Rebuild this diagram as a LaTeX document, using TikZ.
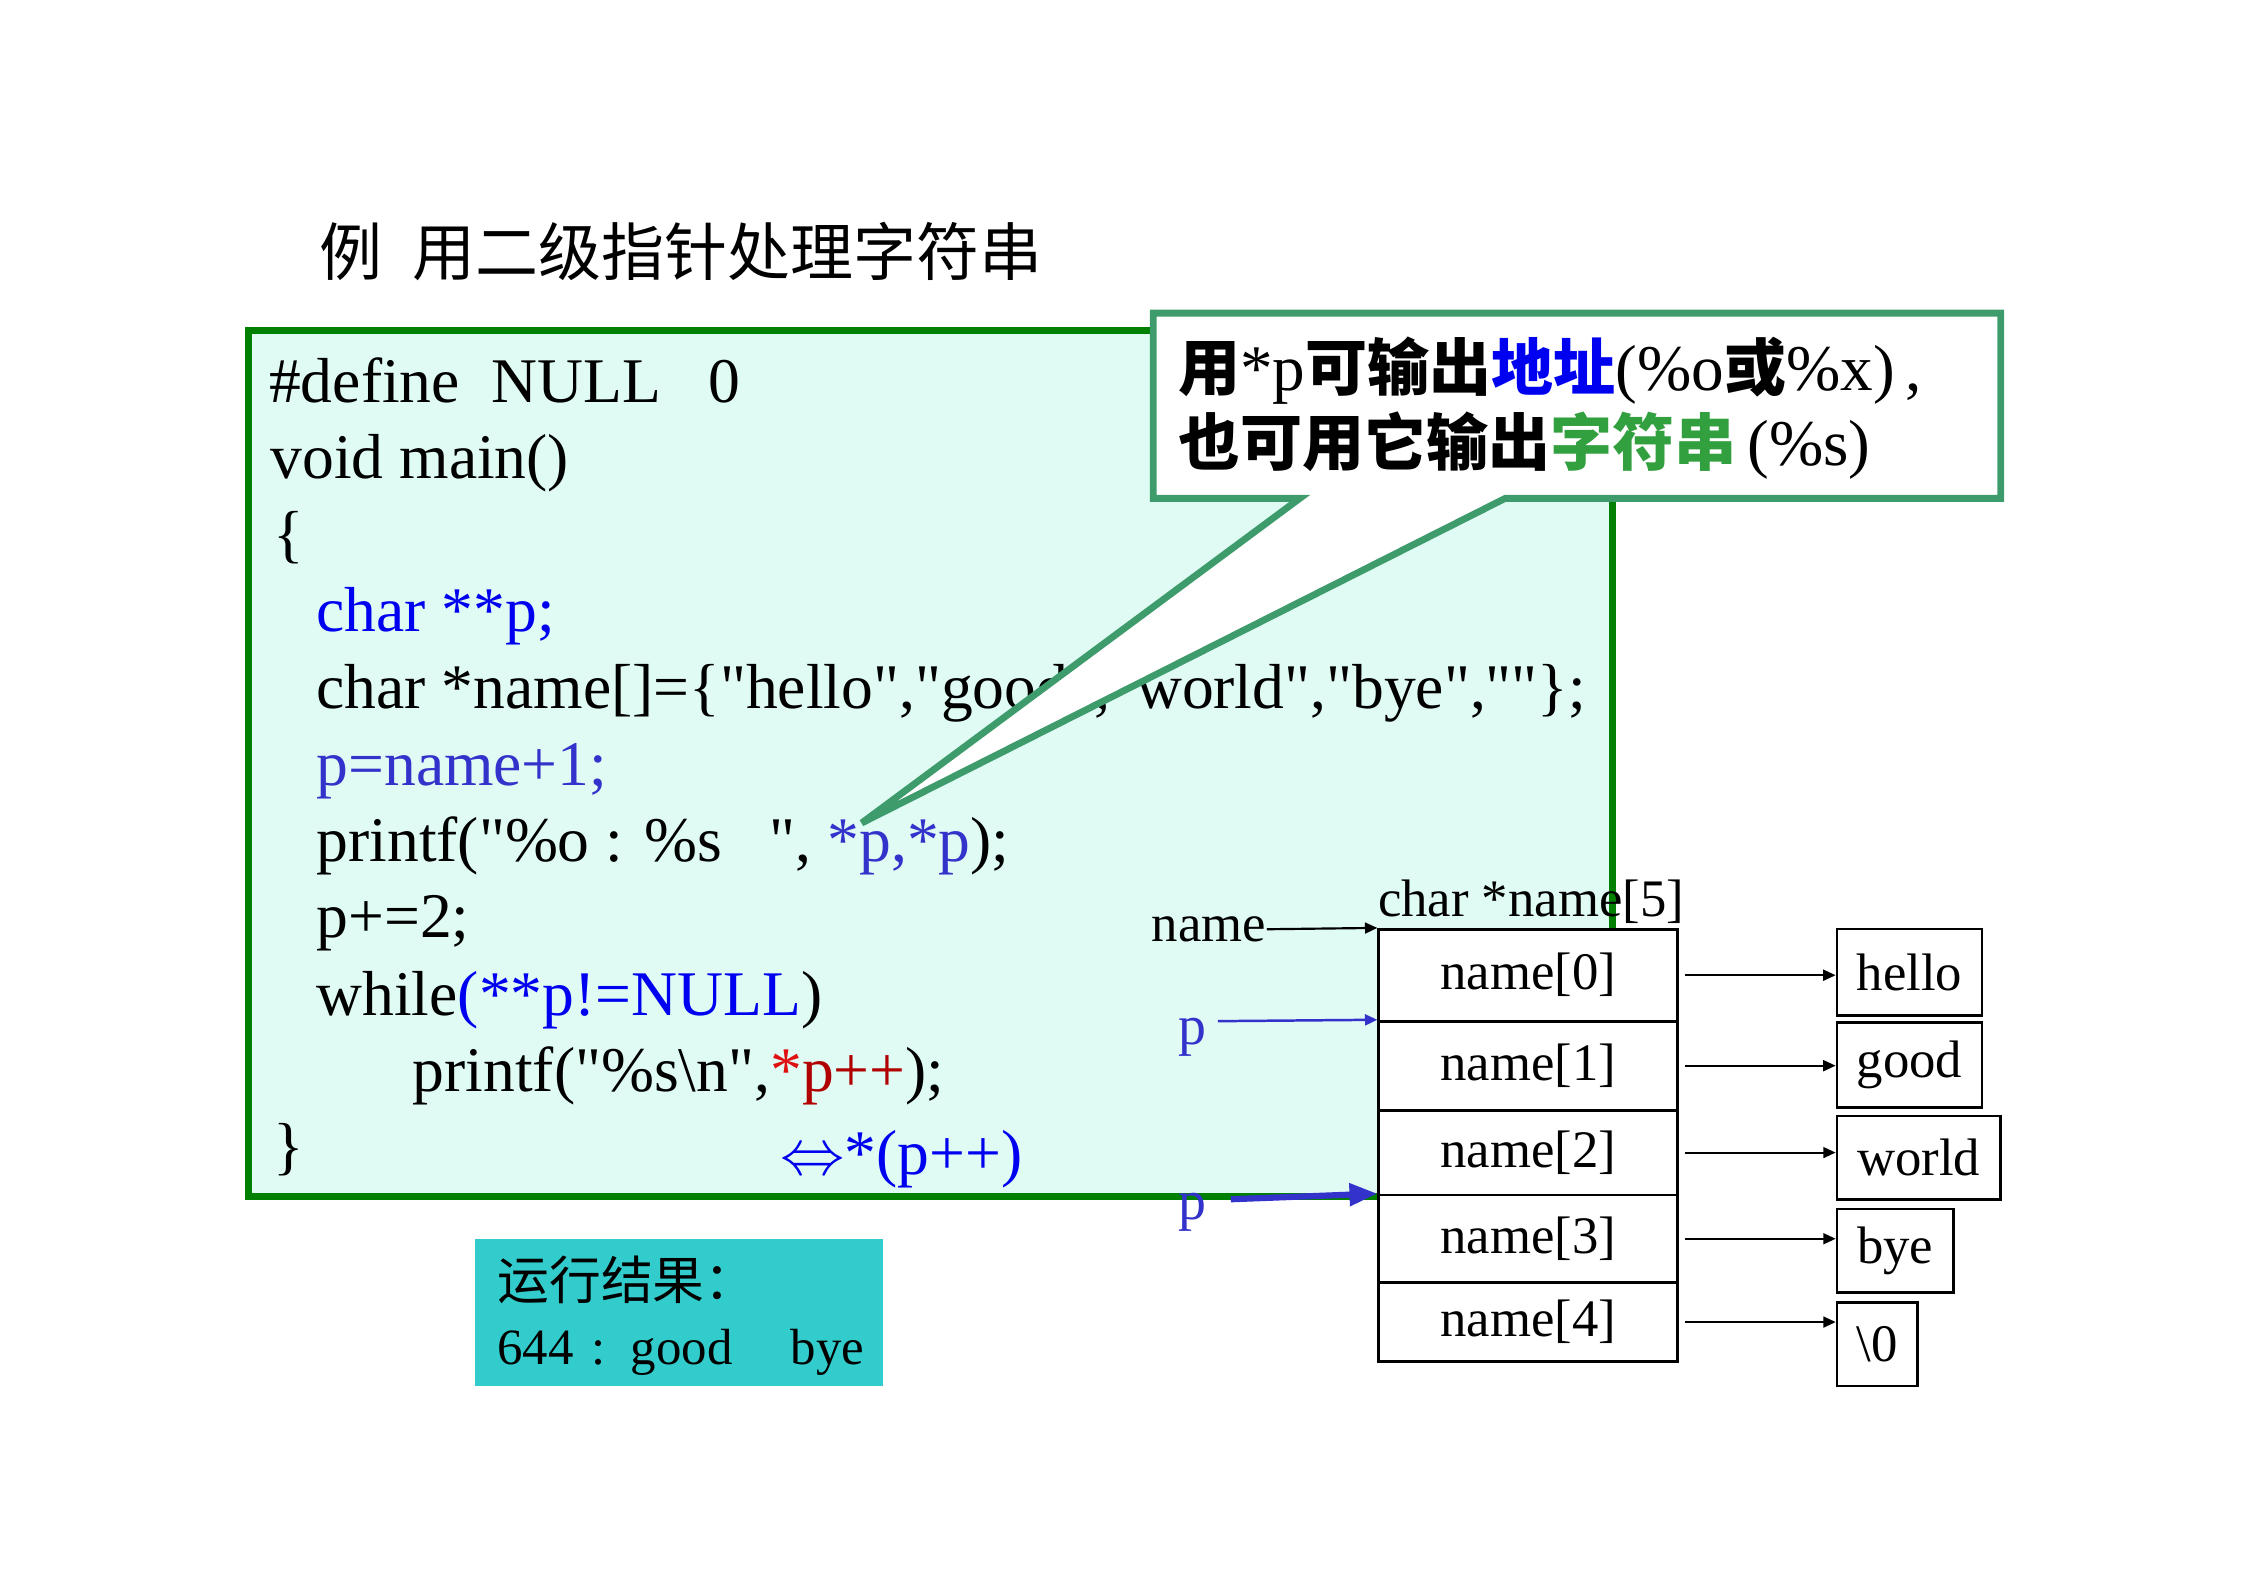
\documentclass[tikz,border=0pt]{standalone}
\usepackage{fontspec}
\setmainfont{Liberation Serif}
\newfontfamily\tms{Liberation Serif}
\newfontfamily\cjk{Noto Sans CJK SC}
\usetikzlibrary{arrows.meta}
\definecolor{codegreen}{HTML}{008000}
\definecolor{codebg}{HTML}{DFFBF3}
\definecolor{callgreen}{HTML}{3E9B6C}
\definecolor{blueA}{HTML}{0000F0}
\definecolor{blueB}{HTML}{3333CC}
\definecolor{redA}{HTML}{E01010}
\definecolor{redB}{HTML}{B00000}
\definecolor{strgreen}{HTML}{33A040}
\definecolor{resbg}{HTML}{33CCCC}
\newcommand\cfont{\tms\fontsize{20.5pt}{24pt}\selectfont}
\newcommand\dfont{\tms\fontsize{17pt}{20pt}\selectfont}
\newcommand\ck{\cjk\bfseries\fontsize{20pt}{24pt}\selectfont}
\begin{document}
\begin{tikzpicture}[x=0.463pt,y=-0.463pt,
  code/.style={anchor=base west,inner sep=0,font=\cfont},
  dtext/.style={inner sep=0,font=\dfont},
  cell/.style={draw=black,fill=white,line width=0.9pt,minimum width=96.3pt,inner sep=0,font=\dfont},
  strbox/.style={draw=black,fill=white,line width=0.8pt,inner sep=0,font=\dfont},
  ptr/.style={line width=0.7pt,-{Triangle[length=4pt,width=3.5pt]}},
  bptr/.style={blueB,line width=0.8pt,-{Triangle[length=4pt,width=3.5pt]}},
  bigptr/.style={blueB,line width=2pt,-{Triangle[length=9pt,width=7pt]}}]
\useasboundingbox (0,0) rectangle (1568,1109.85);
% title
\node[anchor=base west,inner sep=0,font=\cjk\fontsize{20.3pt}{24pt}\selectfont] (title) at (222,192) {例\hspace{9.7pt}用二级指针处理字符串};
% code box
\draw[codegreen,fill=codebg,line width=2.2pt] (173,230) rectangle (1123,833);
\node[code] (l1) at (187,280) {\#define\ \ NULL\ \ \ 0};
\node[code] (l2) at (188,333) {void main()};
\node[code] (l3) at (190,387) {\{};
\node[code,text=blueA] (l4) at (220,440) {char **p;};
\node[code] (l5) at (220,493) {char *name[]=\{"hello","good","world","bye",""\};};
\node[code,text=blueB] (l6) at (220,547) {p=name+1;};
\node[code] (l7) at (220,600) {printf("\%o : \%s\ \ \ ", {\color{blueB}*p,*p});};
\node[code] (l8) at (220,653) {p+=2;};
\node[code] (l9) at (220,707) {while{\color{blueA}(**p!=NULL})};
\node[code] (l10) at (287,760) {printf("\%s\textbackslash n",{\color{redA}*}{\color{redB}p++});};
\node[code] (l11) at (190,813) {\}};
\node[code,text=blueA] (l12) at (543,818) {$\Leftrightarrow$*(p++)};
% callout
\draw[callgreen,fill=white,line width=2.2pt,line join=miter] (803,218) -- (1393,218) -- (1393,347) -- (1048,347) -- (600,573) -- (905,347) -- (803,347) -- cycle;
\node[anchor=base west,inner sep=0,font=\tms\fontsize{21pt}{24pt}\selectfont] (cl1) at (820,272)
  {{\ck 用}*p{\ck 可输出}{\color{blueA}\ck 地址}(\%o{\ck 或}\%x)\,,};
\node[anchor=base west,inner sep=0,font=\tms\fontsize{21pt}{24pt}\selectfont] (cl2) at (820,324)
  {{\ck 也可用它输出}{\color{strgreen}\ck 字符串}\,(\%s)};
% result box
\fill[resbg] (331,863) rectangle (615,965);
\node[anchor=base west,inner sep=0,font=\cjk\fontsize{16.7pt}{20pt}\selectfont] (r1) at (346,905) {运行结果：};
\node[anchor=base west,inner sep=0,font=\tms\fontsize{16.4pt}{20pt}\selectfont] (r2) at (346,950) {644\hspace{5.6pt}:\hspace{8.2pt}good\hspace{18.8pt}bye};
% array
\node[dtext,anchor=base] (arrlab) at (1066,638) {char *name[5]};
\node[cell,minimum height=29.6pt] (c0) at (1064,679) {name[0]};
\node[cell,minimum height=28.7pt] (c1) at (1064,742) {name[1]};
\node[cell,minimum height=27.3pt] (c2) at (1064,802.5) {name[2]};
\node[cell,minimum height=28.2pt] (c3) at (1064,862.5) {name[3]};
\node[cell,minimum height=25.5pt] (c4) at (1064,920.5) {name[4]};
\node[strbox,minimum width=46.8pt,minimum height=27.8pt] (s0) at (1329.5,677) {hello};
\node[strbox,minimum width=46.8pt,minimum height=27.3pt] (s1) at (1329.5,741.5) {good};
\node[strbox,minimum width=52.8pt,minimum height=26.9pt] (s2) at (1336,806) {world};
\node[strbox,minimum width=37.5pt,minimum height=26.9pt] (s3) at (1319.5,871) {bye};
\node[strbox,minimum width=25.9pt,minimum height=26.9pt] (s4) at (1307,936) {\textbackslash 0};
\foreach \i in {0,...,4}{
  \draw[ptr,shorten <=2pt] (c\i.east) -- (c\i.east -| s\i.west);
}
\node[dtext,anchor=east] (nm) at (882,647) {name};
\draw[ptr] (nm.east) -- (c0.north west);
\node[anchor=base west,inner sep=0,font=\tms\fontsize{18pt}{20pt}\selectfont,text=blueB] (p1) at (820,727) {p};
\node[anchor=base west,inner sep=0,font=\tms\fontsize{18pt}{20pt}\selectfont,text=blueB] (p2) at (820,849) {p};
\coordinate (p1s) at (848,711);
\coordinate (p2s) at (857,835);
\draw[bptr] (p1s) -- (c1.north west);
\draw[bigptr] (p2s) -- (c3.north west);
\end{tikzpicture}
\end{document}
